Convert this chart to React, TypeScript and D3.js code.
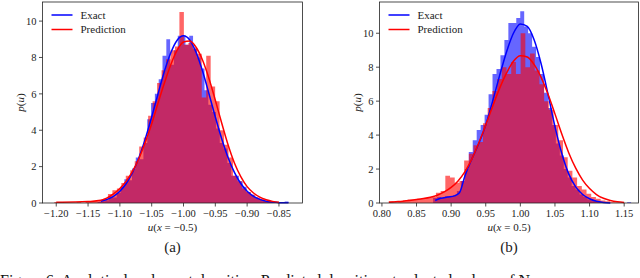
import * as d3 from 'd3';

// ---- panel (a): u(x = -0.5) ----
const aExactHist = [
  0.05, 0.1, 0.15, 0.35, 0.3, 0.55, 0.9, 1.3, 1.25, 1.9,
  2.5, 2.4, 3.3, 4.6, 5.5, 6.0, 6.8, 8.1, 9.0, 7.6,
  8.4, 9.2, 9.2, 8.7, 9.2, 8.5, 8.0, 7.4, 6.2, 5.4,
  5.0, 4.1, 3.3, 3.0, 2.2, 1.5, 1.5, 1.2, 0.9, 0.6,
  0.45, 0.3, 0.2, 0.15, 0.1, 0.05, 0.05, 0, 0, 0.08,
];
const aPredHist = [
  0.05, 0, 0, 0, 0, 0.04, 0, 0.05, 0.08, 0.1,
  0.15, 0.25, 0.5, 0.7, 0.8, 1.1, 1.5, 1.8, 2.3, 3.1,
  3.6, 4.8, 5.6, 6.6, 7.3, 7.9, 8.4, 8.6, 10.5, 8.7,
  8.8, 8.5, 8.2, 5.8, 8.1, 6.4, 5.6, 4.0, 3.2, 2.5,
  1.5, 1.2, 0.8, 0.6, 0.45, 0.3, 0.25, 0.12, 0.08, 0.04,
];
const aExactX = [-1.13, -1.12, -1.11, -1.1, -1.09, -1.08, -1.07, -1.06, -1.05, -1.04, -1.03, -1.02, -1.01, -1.0, -0.99, -0.98, -0.97, -0.96, -0.95, -0.94, -0.93, -0.92, -0.91, -0.9, -0.89, -0.88, -0.87, -0.86, -0.85, -0.835];
const aExactY = [0.1, 0.2, 0.37, 0.65, 1.07, 1.68, 2.5, 3.53, 4.73, 6.01, 7.24, 8.26, 8.95, 9.19, 8.95, 8.26, 7.24, 6.01, 4.73, 3.53, 2.5, 1.68, 1.07, 0.65, 0.37, 0.2, 0.1, 0.05, 0.02, 0.01];
const aPredX = [-1.2, -1.17, -1.15, -1.13, -1.12, -1.11, -1.1, -1.09, -1.08, -1.07, -1.06, -1.05, -1.04, -1.03, -1.02, -1.01, -1.0, -0.99, -0.98, -0.97, -0.96, -0.95, -0.94, -0.93, -0.92, -0.91, -0.9, -0.89, -0.88, -0.87, -0.86, -0.85];
const aPredY = [0.04, 0.05, 0.08, 0.15, 0.28, 0.5, 0.8, 1.2, 1.75, 2.45, 3.35, 4.35, 5.5, 6.6, 7.6, 8.4, 8.85, 8.9, 8.55, 7.85, 6.85, 5.65, 4.4, 3.2, 2.2, 1.45, 0.9, 0.55, 0.32, 0.18, 0.09, 0.04];
const aTicks = [-1.2, -1.15, -1.1, -1.05, -1.0, -0.95, -0.9, -0.85];

// ---- panel (b): u(x = 0.5) ----
const bExactHist = [
  0.3, 0.35, 0.3, 0.4, 0.4, 0.45, 0.7, 1.3, 2.0, 3.0,
  3.7, 4.3, 4.6, 5.2, 6.4, 7.6, 7.9, 8.7, 9.6, 10.6,
  10.6, 10.9, 11.3, 10.4, 10.0, 9.2, 8.6, 7.6, 6.5, 5.6,
  4.6, 3.5, 2.8, 2.0, 1.5, 1.0, 0.8, 0.5, 0.35, 0.2,
  0.15, 0.1, 0.05, 0.03, 0, 0, 0, 0, 0, 0.05,
];
const bPredHist = [
  0.1, 0.05, 0.1, 0.15, 0.2, 0.2, 0.25, 0.3, 0.3, 0.35,
  0.6, 0.7, 1.6, 1.5, 1.2, 1.3, 2.5, 2.9, 3.4, 3.6,
  4.7, 5.6, 6.6, 7.3, 8.0, 7.6, 8.3, 7.6, 10.0, 8.0,
  8.8, 7.8, 7.0, 6.0, 5.5, 4.6, 3.7, 2.7, 1.9, 1.5,
  1.0, 0.8, 0.55, 0.35, 0.25, 0.15, 0.1, 0.05, 0.03, 0.02,
];
const bExactX = [0.877, 0.885, 0.895, 0.905, 0.912, 0.92, 0.93, 0.94, 0.95, 0.96, 0.97, 0.98, 0.99, 1.0, 1.01, 1.02, 1.03, 1.04, 1.05, 1.06, 1.07, 1.08, 1.09, 1.1, 1.11, 1.12, 1.13];
const bExactY = [0.15, 0.28, 0.35, 0.42, 0.6, 1.6, 2.6, 3.5, 4.6, 6.0, 7.5, 8.9, 10.0, 10.55, 10.4, 9.6, 8.2, 6.4, 4.5, 2.9, 1.7, 0.95, 0.5, 0.25, 0.1, 0.03, 0.0];
const bPredX = [0.81, 0.82, 0.83, 0.84, 0.85, 0.86, 0.87, 0.88, 0.89, 0.9, 0.91, 0.92, 0.93, 0.94, 0.95, 0.96, 0.97, 0.98, 0.99, 1.0, 1.01, 1.02, 1.03, 1.04, 1.05, 1.06, 1.07, 1.08, 1.09, 1.1, 1.11, 1.12, 1.13, 1.14, 1.15];
const bPredY = [0.05, 0.08, 0.11, 0.15, 0.2, 0.26, 0.34, 0.46, 0.65, 0.92, 1.3, 1.85, 2.6, 3.55, 4.6, 5.7, 6.75, 7.65, 8.35, 8.68, 8.6, 8.15, 7.4, 6.4, 5.25, 4.05, 2.95, 2.05, 1.35, 0.85, 0.5, 0.28, 0.15, 0.07, 0.03];
const bTicks = [0.8, 0.85, 0.9, 0.95, 1.0, 1.05, 1.1, 1.15];

const yTicks = [0, 2, 4, 6, 8, 10];
const FONT = "'Liberation Serif', serif";

interface PanelProps {
  left: number;
  right: number;
  xDomain: [number, number];
  yMax: number;
  xTicks: number[];
  exactHist: number[];
  exactStart: number;
  exactWidth: number;
  predHist: number[];
  predStart: number;
  predWidth: number;
  exactX: number[];
  exactY: number[];
  predX: number[];
  predY: number[];
  xLabelValue: string;
  tag: string;
}

function Panel(p: PanelProps) {
  const top = 2;
  const bottom = 203;
  const x = d3.scaleLinear().domain(p.xDomain).range([p.left, p.right]);
  const y = d3.scaleLinear().domain([0, p.yMax]).range([bottom, top]);
  const fmt = (v: number) => d3.format('.2f')(v).replace('-', '\u2212');

  const path = (xs: number[], ys: number[]) =>
    d3
      .line<number>()
      .x((v) => x(v))
      .y((_, i) => y(ys[i]))
      .curve(d3.curveMonotoneX)(xs) ?? '';

  // histogram as one step outline, so no seams between bars
  const steps = (vals: number[], start: number, w: number) => {
    const pts: [number, number][] = [[x(start), bottom]];
    vals.forEach((v, i) => {
      pts.push([x(start + i * w), y(v)]);
      pts.push([x(start + (i + 1) * w), y(v)]);
    });
    pts.push([x(start + vals.length * w), bottom]);
    return (d3.line()(pts) ?? '') + 'Z';
  };

  const mid = (p.left + p.right) / 2;

  return (
    <g fontFamily={FONT}>
      <path d={steps(p.exactHist, p.exactStart, p.exactWidth)} fill="#0000ff" fillOpacity={0.6} />
      <path d={steps(p.predHist, p.predStart, p.predWidth)} fill="#ff0000" fillOpacity={0.6} />
      <path d={path(p.exactX, p.exactY)} fill="none" stroke="#0000ff" strokeWidth={1.5} />
      <path d={path(p.predX, p.predY)} fill="none" stroke="#ff0000" strokeWidth={1.5} />

      {/* frame */}
      <rect x={p.left} y={top} width={p.right - p.left} height={bottom - top} fill="none" stroke="#222" strokeWidth={0.8} />

      {/* y axis */}
      {yTicks.map((t) => (
        <g key={`y${t}`}>
          <line x1={p.left - 3.5} x2={p.left} y1={y(t)} y2={y(t)} stroke="#222" strokeWidth={0.8} />
          <text x={p.left - 6} y={y(t)} dy="0.35em" textAnchor="end" fontSize={10.5} fill="#222">
            {t}
          </text>
        </g>
      ))}

      {/* x axis */}
      {p.xTicks.map((t) => (
        <g key={`x${t}`}>
          <line x1={x(t)} x2={x(t)} y1={bottom} y2={bottom + 3.5} stroke="#222" strokeWidth={0.8} />
          <text x={x(t)} y={bottom + 14} textAnchor="middle" fontSize={10.5} fill="#222">
            {fmt(t)}
          </text>
        </g>
      ))}

      <text x={mid} y={231} textAnchor="middle" fontSize={11} fill="#222">
        <tspan fontStyle="italic">u</tspan>(<tspan fontStyle="italic">x</tspan> = {p.xLabelValue})
      </text>
      <text x={mid} y={252} textAnchor="middle" fontSize={15} fill="#222">
        {p.tag}
      </text>
      <text
        transform={`translate(${p.left - 19},${(top + bottom) / 2}) rotate(-90)`}
        textAnchor="middle"
        fontSize={11}
        fill="#222"
      >
        <tspan fontStyle="italic">p</tspan>(<tspan fontStyle="italic">u</tspan>)
      </text>

      {/* legend */}
      <line x1={p.left + 9} x2={p.left + 30} y1={15} y2={15} stroke="#0000ff" strokeWidth={1.5} />
      <text x={p.left + 38} y={15} dy="0.35em" fontSize={11} fill="#222">
        Exact
      </text>
      <line x1={p.left + 9} x2={p.left + 30} y1={29.5} y2={29.5} stroke="#ff0000" strokeWidth={1.5} />
      <text x={p.left + 38} y={29.5} dy="0.35em" fontSize={11} fill="#222">
        Prediction
      </text>
    </g>
  );
}

export default function App() {
  return (
    <svg
      width={640}
      height={278}
      style={{ position: 'absolute', left: 0, top: 0, display: 'block', background: '#fff' }}
    >
      <Panel
        left={42.5}
        right={302.5}
        xDomain={[-1.2216, -0.813]}
        yMax={11.05}
        xTicks={aTicks}
        exactHist={aExactHist}
        exactStart={-1.135}
        exactWidth={0.006}
        predHist={aPredHist}
        predStart={-1.203}
        predWidth={0.00702}
        exactX={aExactX}
        exactY={aExactY}
        predX={aPredX}
        predY={aPredY}
        xLabelValue={'\u22120.5'}
        tag="(a)"
      />
      <Panel
        left={379.5}
        right={638.5}
        xDomain={[0.7965, 1.1707]}
        yMax={11.84}
        xTicks={bTicks}
        exactHist={bExactHist}
        exactStart={0.874}
        exactWidth={0.00572}
        predHist={bPredHist}
        predStart={0.81}
        predWidth={0.0068}
        exactX={bExactX}
        exactY={bExactY}
        predX={bPredX}
        predY={bPredY}
        xLabelValue="0.5"
        tag="(b)"
      />
      <text x={0} y={286} fontSize={16} fontFamily={FONT} fill="#111">
        Figure 6: Analytical and exact densities. Predicted densities at selected values of N
      </text>
    </svg>
  );
}
